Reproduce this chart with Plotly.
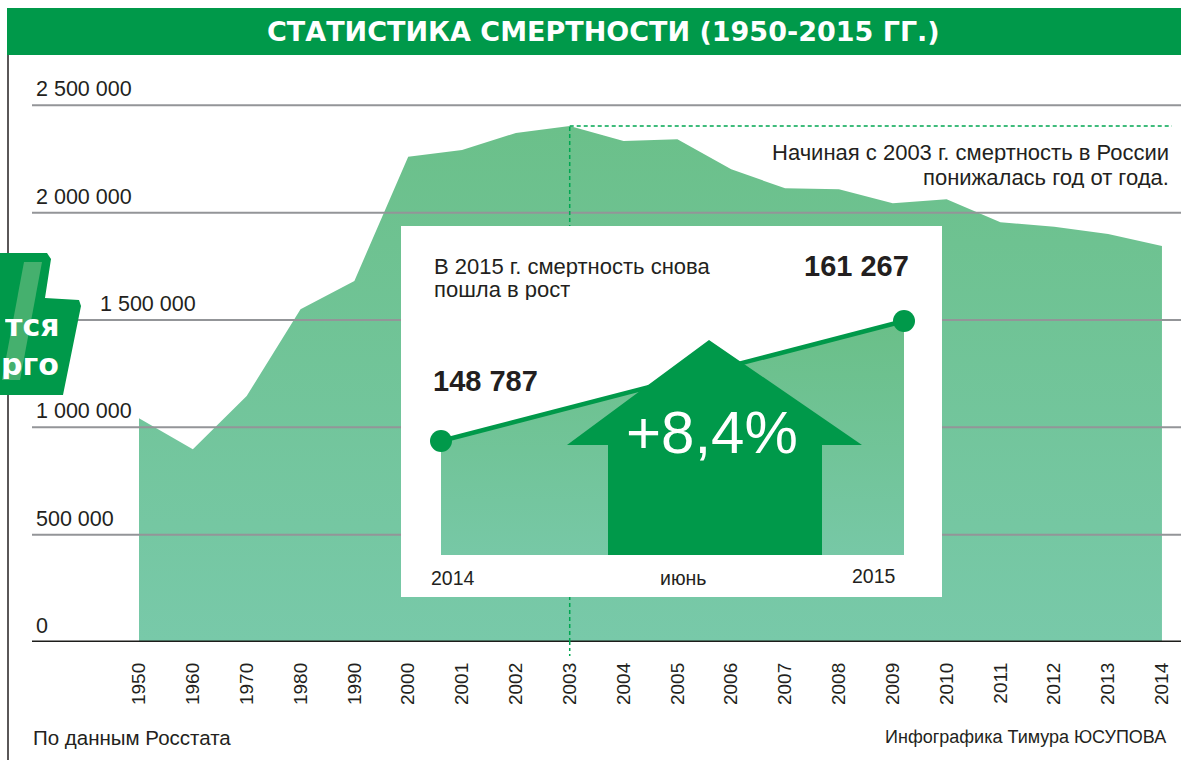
import plotly.graph_objects as go

# data
years = ["1950", "1960", "1970", "1980", "1990", "2000", "2001", "2002", "2003", "2004",
         "2005", "2006", "2007", "2008", "2009", "2010", "2011", "2012", "2013", "2014"]
deaths = [1042100, 897700, 1146000, 1549900, 1681800, 2260800, 2292000, 2371200, 2403800, 2334000,
          2341900, 2202100, 2113600, 2108900, 2043700, 2062300, 1955200, 1934700, 1900700, 1844800]
y_ticks = [0, 500000, 1000000, 1500000, 2000000, 2500000]
y_ticktext = ["0", "500 000", "1 000 000", "1 500 000", "2 000 000", "2 500 000"]
peak_year = "2003"

inset_x = [0, 1]
inset_values = [148787, 161267]
inset_value_text = ["148 787", "161 267"]
inset_labels = ["2014", "июнь", "2015"]
inset_change = "+8,4%"

# page geometry (pixels) -> paper coords
W, H = 1181, 760
PL, PR, PT, PB = 32, 1181, 60, 642
def X(px):
    return (px - PL) / (PR - PL)
def Y(py):
    return (PB - py) / (PB - PT)

STEP = 53.84          # px per category
X_FIRST = 139         # px of first category
def xi(px):
    return (px - X_FIRST) / STEP

GREEN = "#00994a"
DASH = "#00a651"
TXT = "#231f20"
SANS = "Liberation Sans Narrow, Liberation Sans, Arial, sans-serif"

xs = list(range(len(years)))
x_range = [xi(PL), xi(PR)]
y_range = [0, 500000 * (PB - PT) / 107.33]

fig = go.Figure()

# main area
fig.add_trace(go.Scatter(
    x=xs, y=deaths, mode="lines", line=dict(width=0), fill="tozeroy",
    fillgradient=dict(type="vertical", colorscale=[[0, "#78c9a9"], [1, "#6bc08a"]]),
    hoverinfo="skip", xaxis="x", yaxis="y"))

# grid lines above the area
for v in y_ticks:
    fig.add_trace(go.Scatter(
        x=x_range, y=[v, v], mode="lines",
        line=dict(color="#1d1d1b" if v == 0 else "#939598", width=3 if v == 0 else 2),
        hoverinfo="skip", xaxis="x", yaxis="y"))

# 2003 dashed marker
ip = years.index(peak_year)
fig.add_trace(go.Scatter(
    x=[xs[ip], xs[ip]], y=[0, deaths[ip]], mode="lines",
    line=dict(color=DASH, width=1.5, dash="4px,3px"), hoverinfo="skip"))

# inset white box (subplot 2)
fig.add_trace(go.Scatter(
    x=[0, 1, 1, 0, 0], y=[0, 0, 1, 1, 0], mode="lines", fill="toself",
    fillcolor="white", line=dict(width=0), hoverinfo="skip", xaxis="x2", yaxis="y2"))

# inset chart (subplot 3)
y3_range = [136931, 171147]
fig.add_trace(go.Scatter(
    x=inset_x, y=inset_values, mode="lines+markers", fill="tozeroy",
    fillgradient=dict(type="vertical", start=y3_range[0], stop=max(inset_values),
                      colorscale=[[0, "#77c8a6"], [1, "#6abf88"]]),
    line=dict(color=GREEN, width=4.5), marker=dict(size=22, color=GREEN),
    cliponaxis=False, hoverinfo="skip", xaxis="x3", yaxis="y3"))

shapes = []
# title bar
shapes.append(dict(type="rect", xref="paper", yref="paper", x0=X(7), x1=X(1181),
                   y0=Y(55), y1=Y(8), fillcolor=GREEN, line=dict(width=0), layer="above"))
# left page rule
shapes.append(dict(type="line", xref="paper", yref="paper", x0=X(8), x1=X(8),
                   y0=Y(55), y1=Y(760), line=dict(color=TXT, width=1.5), layer="above"))
# horizontal dashed line from 2003 peak
shapes.append(dict(type="line", xref="x", yref="y", x0=xs[ip], x1=xi(1172),
                   y0=deaths[ip], y1=deaths[ip], line=dict(color=DASH, width=1.5, dash="4px,3px"),
                   layer="above"))
# dashed stub below axis
shapes.append(dict(type="line", xref="x", yref="paper", x0=xs[ip], x1=xs[ip],
                   y0=0, y1=Y(656), line=dict(color=DASH, width=1.5, dash="3px,3px"),
                   layer="above"))
# arrow in inset
arrow_pts = [(608, 555), (608, 445), (567, 445), (709, 340), (862, 445), (822, 445), (822, 555)]
path = "M " + " L ".join(f"{X(a):.5f},{Y(b):.5f}" for a, b in arrow_pts) + " Z"
shapes.append(dict(type="path", xref="paper", yref="paper", path=path,
                   fillcolor=GREEN, line=dict(width=0), layer="above"))
# badge on the left edge
badge_pts = [(-4, 253), (47, 253), (51, 259), (45, 298), (79, 300), (81, 306), (63, 395), (-4, 395)]
path = "M " + " L ".join(f"{X(a):.5f},{Y(b):.5f}" for a, b in badge_pts) + " Z"
shapes.append(dict(type="path", xref="paper", yref="paper", path=path,
                   fillcolor=GREEN, line=dict(width=0), layer="above"))
# faded digit stroke in the badge
stroke_pts = [(24, 262), (42, 262), (20, 380), (2, 380)]
path = "M " + " L ".join(f"{X(a):.5f},{Y(b):.5f}" for a, b in stroke_pts) + " Z"
shapes.append(dict(type="path", xref="paper", yref="paper", path=path,
                   fillcolor="#45b06e", line=dict(width=0), layer="above"))

ann = []
def text(s, px, py, size=22, anchor="left", color=TXT, family=SANS, weight="normal", height=None):
    a = dict(text=s, x=X(px), y=Y(py), xref="paper", yref="paper", showarrow=False,
             xanchor=anchor, yanchor="middle",
             font=dict(size=size, color=color, family=family, weight=weight))
    if height:
        a["height"] = height
        a["borderpad"] = 0
    ann.append(a)

text("СТАТИСТИКА СМЕРТНОСТИ (1950-2015 ГГ.)", 603, 32, size=27, anchor="center",
     color="white", family="DejaVu Sans", weight="bold")

# y tick labels sit above their grid lines
for v, t in zip(y_ticks, y_ticktext):
    ann.append(dict(text=t, x=X(98 if v == 1500000 else 34), y=v, xref="paper", yref="y",
                    showarrow=False, xanchor="left", yanchor="bottom", yshift=2,
                    font=dict(size=21.5, color=TXT, family=SANS)))

text("Начиная с 2003 г. смертность в России", 1170, 152, anchor="right", height=22)
text("понижалась год от года.", 1170, 177, anchor="right", height=22)

text("В 2015 г. смертность снова", 433, 266, height=21)
text("пошла в рост", 433, 289, height=21)
text(inset_value_text[1], 911, 266, size=29, anchor="right", family="Liberation Sans", weight="bold")
text(inset_value_text[0], 431, 381, size=29, anchor="left", family="Liberation Sans", weight="bold")
text(inset_change, 712, 433, size=60, anchor="center", color="white", family="Liberation Sans")
text(inset_labels[0], 429, 578, size=19.5, anchor="left")
text(inset_labels[1], 683, 578, size=19.5, anchor="center")
text(inset_labels[2], 898, 576, size=19.5, anchor="right")

# badge text
text("тся", 60, 325, size=30, anchor="right", color="white", family="DejaVu Sans", weight="bold",
     height=30)
text("рго", 60, 364, size=30, anchor="right", color="white", family="DejaVu Sans", weight="bold",
     height=30)

text("По данным Росстата", 31, 737, size=20.5)
text("Инфографика Тимура ЮСУПОВА", 1168, 737, size=18, anchor="right")

fig.update_layout(
    width=W, height=H,
    margin=dict(l=PL, r=W - PR, t=PT, b=H - PB),
    paper_bgcolor="white", plot_bgcolor="white",
    showlegend=False,
    shapes=shapes, annotations=ann,
    xaxis=dict(range=x_range, tickvals=xs, ticktext=years, tickangle=-90,
               ticklabelstandoff=16, showgrid=False, zeroline=False, showline=False,
               ticks="", tickfont=dict(size=19, color=TXT, family=SANS), fixedrange=True),
    yaxis=dict(range=y_range, showgrid=False, zeroline=False, showticklabels=False,
               showline=False, ticks="", fixedrange=True),
    xaxis2=dict(domain=[X(401), X(942)], range=[0, 1], visible=False, anchor="y2"),
    yaxis2=dict(domain=[Y(597), Y(226)], range=[0, 1], visible=False, anchor="x2"),
    xaxis3=dict(domain=[X(437), X(907)], range=[-4 / 463, 1 + 3 / 463], visible=False, anchor="y3"),
    yaxis3=dict(domain=[Y(555), Y(226)], range=y3_range, visible=False, anchor="x3"),
)

fig.write_html("out.html", config={"displayModeBar": False},
               post_script="document.body.style.margin='0';")
